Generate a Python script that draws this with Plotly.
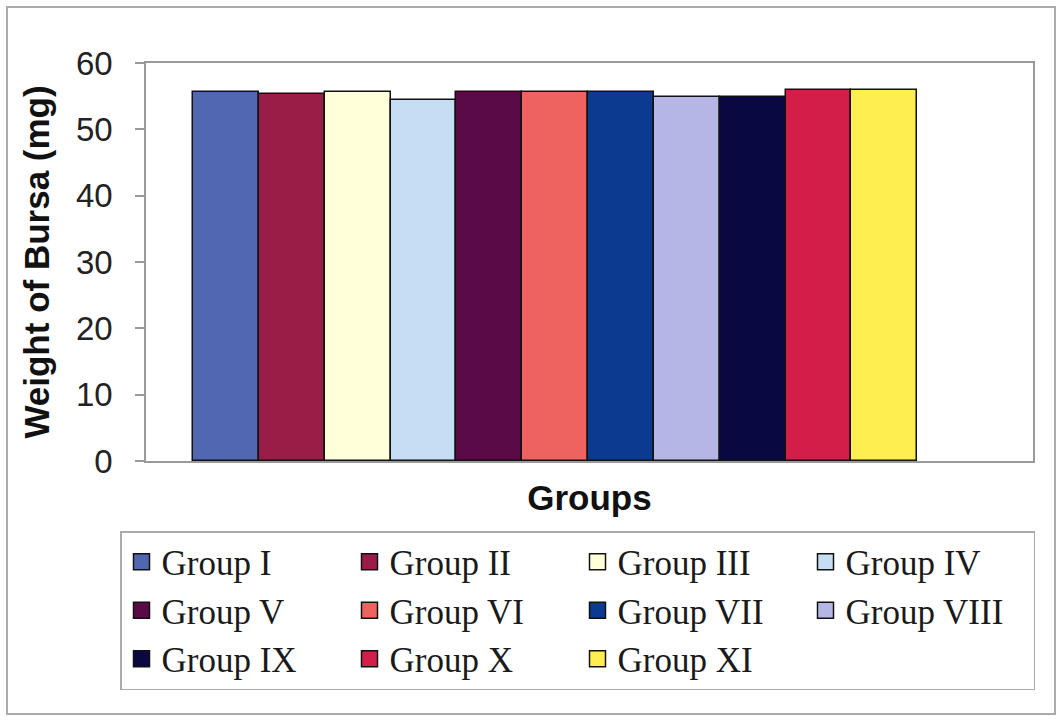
import plotly.graph_objects as go

groups = ["Group I", "Group II", "Group III", "Group IV", "Group V", "Group VI",
          "Group VII", "Group VIII", "Group IX", "Group X", "Group XI"]
weights = [55.6, 55.4, 55.6, 54.4, 55.7, 55.6, 55.7, 54.8, 54.9, 55.9, 55.9]
colors = ["#5168B0", "#9A1D48", "#FFFFDA", "#C6DEF4", "#5A0A46", "#EE6360",
          "#0C3A91", "#B6B6E6", "#0A0840", "#D31E4A", "#FFEE50"]
category = ["Groups"]

fig = go.Figure()
for name, w, c in zip(groups, weights, colors):
    fig.add_trace(go.Bar(x=[0], y=[w], name=name, marker_color=c,
                         marker_line_color="#111111", marker_line_width=1.5,
                         showlegend=False))
for name, c in zip(groups, colors):
    fig.add_trace(go.Scatter(x=[None], y=[None], mode="markers", name=name,
                             marker=dict(symbol="square", size=16, color=c,
                                         line=dict(color="#111111", width=1.5))))

W, H = 1063, 721
L, R, T, B = 146, 1033, 63, 461
pw, ph = R - L, B - T

def px(x):
    return (x - L) / pw

def py(y):
    return (B - y) / ph

fig.update_layout(
    width=W, height=H,
    margin=dict(l=L, r=W - R, t=T, b=H - B),
    paper_bgcolor="white", plot_bgcolor="white",
    barmode="group", bargap=0, bargroupgap=0,
    showlegend=True,
    legend=dict(orientation="h", x=px(120), y=py(531), xanchor="left", yanchor="top",
                bordercolor="#AAAAAA", borderwidth=1.5,
                font=dict(family="Liberation Serif", size=35, color="#1A1A1A"),
                entrywidth=183, entrywidthmode="pixels", itemclick=False),
    xaxis=dict(range=[-0.565, 0.66], showticklabels=False, ticks="",
               showgrid=False, zeroline=False, showline=True, linecolor="#999999",
               linewidth=1.5, mirror=True,
               title=dict(text="<b>Groups</b>", standoff=24,
                          font=dict(family="Arial", size=35, color="#111111"))),
    yaxis=dict(range=[0, 60], dtick=10, showgrid=False, zeroline=False,
               showline=True, linecolor="#999999", linewidth=1.5, mirror=True,
               ticks="outside", ticklen=9, tickcolor="#999999", tickwidth=1.5,
               ticklabelstandoff=16,
               tickfont=dict(family="Arial", size=33, color="#222222"),
               title=dict(text="<b>Weight of Bursa (mg)</b>", standoff=16,
                          font=dict(family="Arial", size=35, color="#111111"))),
)
fig.add_shape(type="rect", xref="paper", yref="paper",
              x0=px(7), x1=px(1055), y0=py(714), y1=py(7),
              line=dict(color="#AAAAAA", width=2), layer="below")

fig.write_html("out.html")
